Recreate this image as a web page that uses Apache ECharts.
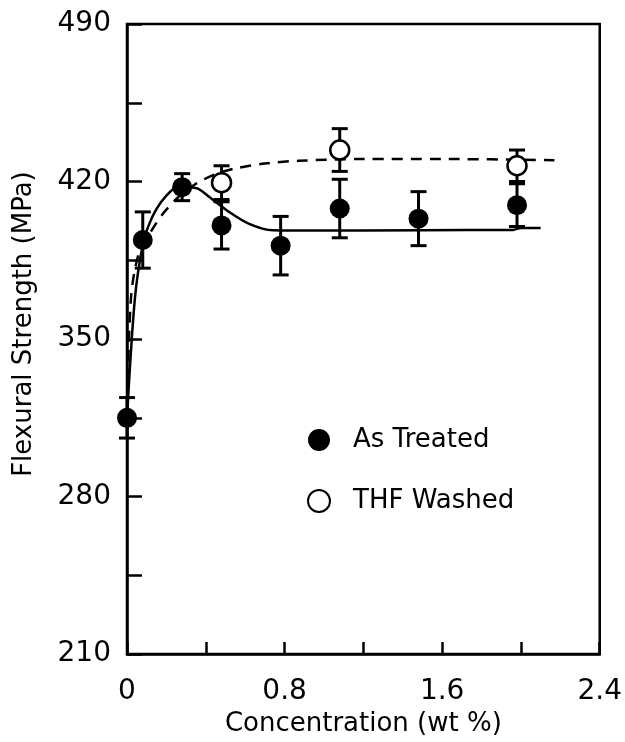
<!DOCTYPE html>
<html>
<head>
<meta charset="UTF-8">
<title>Flexural Strength</title>
<script src="https://cdn.jsdelivr.net/npm/echarts@6/dist/echarts.min.js"></script>
<style>
	html, body { margin: 0; padding: 0; background: #fff; }
	#chart { width: 625px; height: 742px; }
</style>
</head>
<body>
<div id="chart"></div>
<script>
// As Treated (filled)
var treatedX = [0, 0.08, 0.28, 0.48, 0.78, 1.08, 1.48, 1.98];
var treatedY = [315, 394, 417.5, 400.5, 391.5, 408, 403.5, 409.5];
var treatedErr = [9, 12.5, 6, 10.5, 13, 13, 12, 9.5];
// THF Washed (open)
var washedX = [0.48, 1.08, 1.98];
var washedY = [419.5, 434, 427];
var washedErr = [7.5, 9.5, 7];
// hand drawn curves
var solidCurveX = [0, 0.04, 0.08, 0.11, 0.15, 0.2, 0.25, 0.32, 0.36, 0.42, 0.52, 0.62, 0.74, 0.87, 1.5, 1.96, 2.0, 2.1];
var solidCurveY = [315, 368, 392, 400.5, 407.8, 413.7, 417.2, 417.4, 416.8, 413, 406.4, 401.2, 398.3, 398.2, 398.4, 398.5, 399.4, 399.4];
var dashCurveX = [0, 0.02, 0.06, 0.13, 0.19, 0.26, 0.35, 0.45, 0.55, 0.7, 0.87, 1.2, 1.6, 2.17];
var dashCurveY = [315, 368, 388, 399, 406.5, 413, 419, 423.3, 425.8, 428, 429.2, 430, 430, 429.5];
var yLabels = [210, 280, 350, 420, 490];
var xLabels = ['0', '0.8', '1.6', '2.4'];

var font = 'DejaVu Sans';

function pairs(xs, ys) {
	var out = [];
	for (var i = 0; i < xs.length; i++) out.push([xs[i], ys[i]]);
	return out;
}
function errData(xs, ys, es) {
	var out = [];
	for (var i = 0; i < xs.length; i++) out.push([xs[i], ys[i] - es[i], ys[i] + es[i]]);
	return out;
}
function renderErr(params, api) {
	var x = api.value(0);
	var lo = api.coord([x, api.value(1)]);
	var hi = api.coord([x, api.value(2)]);
	var w = 8;
	var st = { stroke: '#000', lineWidth: 3 };
	return {
		type: 'group',
		children: [
			{ type: 'line', shape: { x1: lo[0], y1: lo[1], x2: hi[0], y2: hi[1] }, style: st },
			{ type: 'line', shape: { x1: lo[0] - w, y1: lo[1], x2: lo[0] + w, y2: lo[1] }, style: st },
			{ type: 'line', shape: { x1: hi[0] - w, y1: hi[1], x2: hi[0] + w, y2: hi[1] }, style: st }
		]
	};
}

var chart = echarts.init(document.getElementById('chart'));
chart.setOption({
	animation: false,
	backgroundColor: '#fff',
	grid: { left: 127, right: 22, top: 24, bottom: 84, show: true, borderColor: '#000', borderWidth: 2.5 },
	legend: {
		orient: 'vertical',
		left: 302,
		top: 422,
		itemWidth: 22,
		itemHeight: 22,
		itemGap: 35,
		data: ['As Treated', 'THF Washed'],
		textStyle: { fontFamily: font, fontSize: 26, color: '#000', padding: [0, 0, 0, 18] }
	},
	xAxis: {
		type: 'value',
		min: 0,
		max: 2.4,
		interval: 0.4,
		name: 'Concentration (wt %)',
		nameLocation: 'middle',
		nameGap: 56,
		nameTextStyle: { fontFamily: font, fontSize: 26, color: '#000' },
		axisLine: { lineStyle: { color: '#000', width: 2.5 } },
		axisTick: { inside: true, length: 12, lineStyle: { color: '#000', width: 2.5 } },
		splitLine: { show: false },
		axisLabel: {
			margin: 24,
			fontFamily: font,
			fontSize: 28,
			color: '#000',
			formatter: function (v) {
				for (var i = 0; i < xLabels.length; i++) {
					if (Math.abs(parseFloat(xLabels[i]) - v) < 1e-6) return xLabels[i];
				}
				return '';
			}
		}
	},
	yAxis: {
		type: 'value',
		min: 210,
		max: 490,
		interval: 35,
		name: 'Flexural Strength (MPa)',
		nameLocation: 'middle',
		nameGap: 90,
		nameTextStyle: { fontFamily: font, fontSize: 26, color: '#000', padding: [0, 0, 0, 30] },
		axisLine: { show: true, lineStyle: { color: '#000', width: 2.5 } },
		axisTick: { show: true, inside: true, length: 15, lineStyle: { color: '#000', width: 2.5 } },
		splitLine: { show: false },
		axisLabel: {
			margin: 16,
			fontFamily: font,
			fontSize: 28,
			color: '#000',
			formatter: function (v) {
				return yLabels.indexOf(Math.round(v)) >= 0 ? String(Math.round(v)) : '';
			}
		}
	},
	series: [
		{
			name: 'solid curve',
			type: 'line',
			data: pairs(solidCurveX, solidCurveY),
			smooth: 0.3,
			symbol: 'none',
			lineStyle: { color: '#000', width: 2.5 },
			z: 1
		},
		{
			name: 'dashed curve',
			type: 'line',
			data: pairs(dashCurveX, dashCurveY),
			smooth: 0.3,
			symbol: 'none',
			lineStyle: { color: '#000', width: 2.5, type: [11, 8] },
			z: 1
		},
		{
			name: 'treated err',
			type: 'custom',
			renderItem: renderErr,
			encode: { x: 0, y: [1, 2] },
			data: errData(treatedX, treatedY, treatedErr),
			z: 2
		},
		{
			name: 'washed err',
			type: 'custom',
			renderItem: renderErr,
			encode: { x: 0, y: [1, 2] },
			data: errData(washedX, washedY, washedErr),
			z: 2
		},
		{
			name: 'As Treated',
			type: 'scatter',
			data: pairs(treatedX, treatedY),
			symbol: 'circle',
			symbolSize: 20,
			itemStyle: { color: '#000', opacity: 1 },
			z: 3
		},
		{
			name: 'THF Washed',
			type: 'scatter',
			data: pairs(washedX, washedY),
			symbol: 'circle',
			symbolSize: 19,
			itemStyle: { color: '#fff', borderColor: '#000', borderWidth: 2.5, opacity: 1 },
			z: 3
		}
	]
});
</script>
</body>
</html>
